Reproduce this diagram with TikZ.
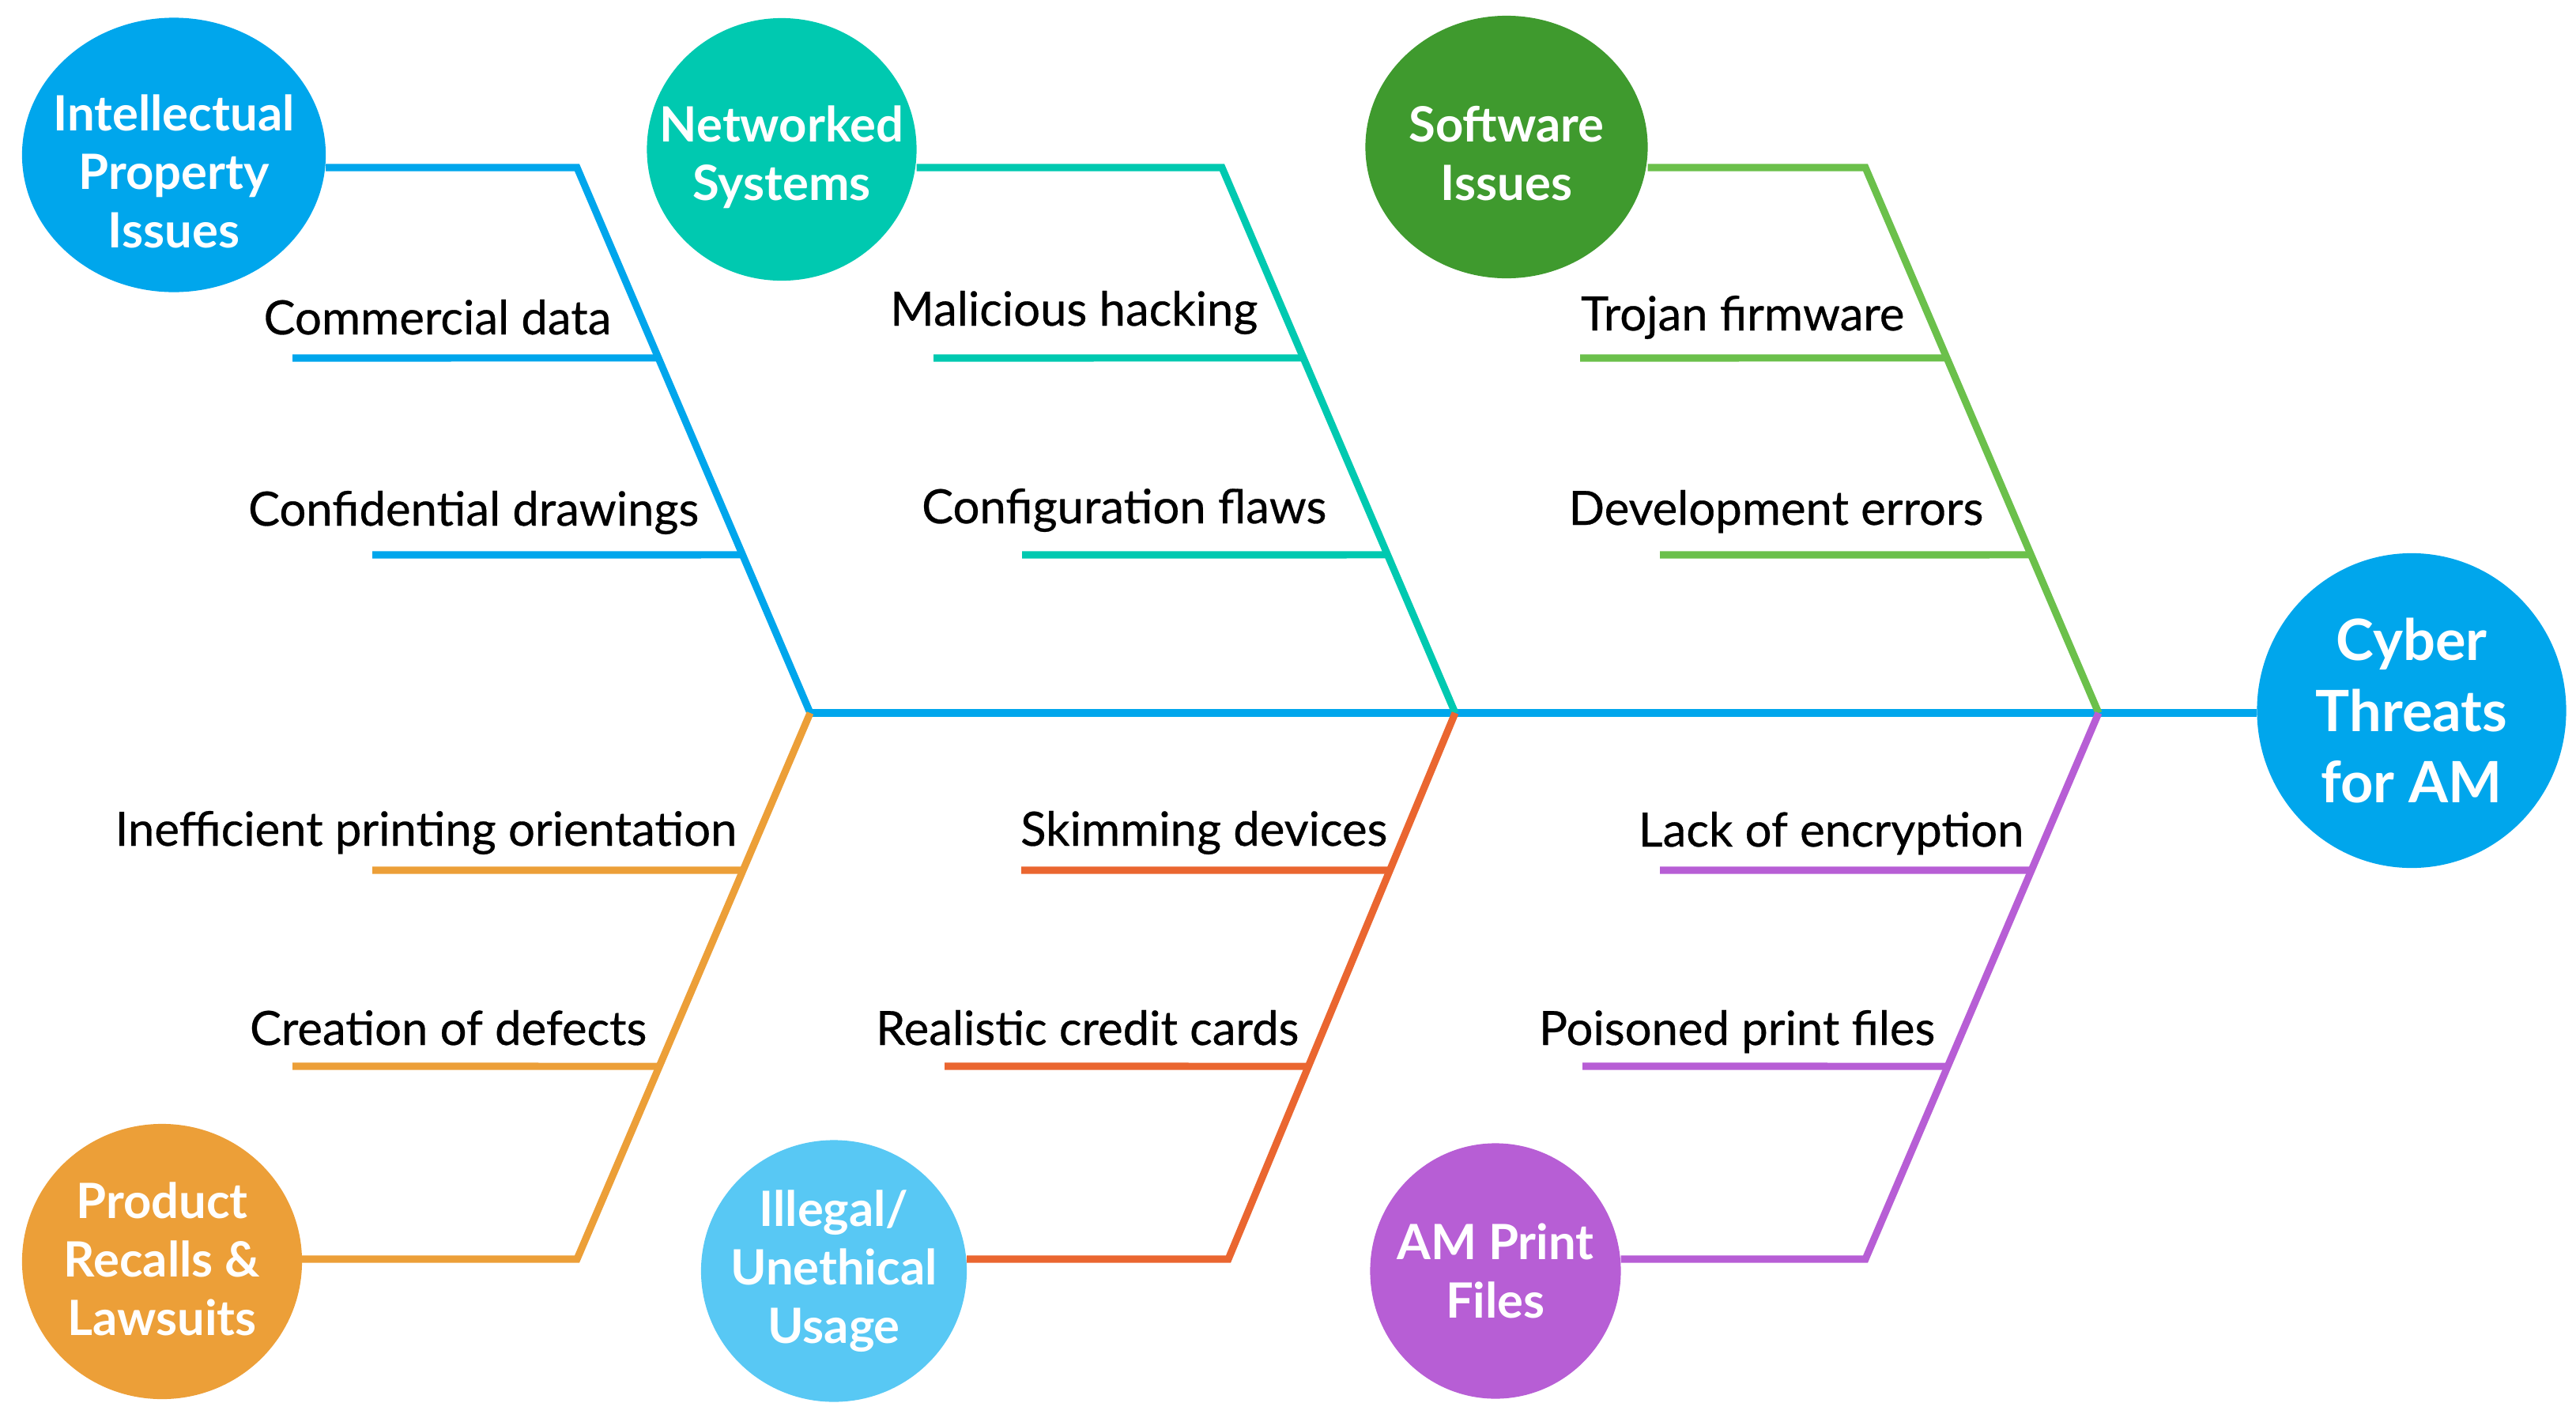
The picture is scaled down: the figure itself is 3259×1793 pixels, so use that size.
\documentclass[tikz,border=0pt]{standalone}
\usepackage{fontspec}
\setmainfont{Lato}
\newfontfamily\lblfont{Lato}[FakeBold=0.5]
\usetikzlibrary{shapes.geometric,calc}
\definecolor{cblue}{RGB}{0,166,236}
\definecolor{cteal}{RGB}{0,201,176}
\definecolor{cdgreen}{RGB}{63,154,46}
\definecolor{clgreen}{RGB}{107,192,75}
\definecolor{corange}{RGB}{236,159,56}
\definecolor{clblue}{RGB}{88,200,244}
\definecolor{cred}{RGB}{234,102,48}
\definecolor{cpurple}{RGB}{183,94,213}
\tikzset{
  bubble/.style={ellipse, inner sep=0pt, outer sep=0pt},
  btext/.style={inner sep=0pt, text=white, align=center,
    font=\fontsize{17.5}{21}\selectfont\bfseries},
  bone/.style={line width=2.6pt},
  lbl/.style={anchor=base east, inner sep=0pt, font=\fontsize{17}{20}\selectfont\lblfont}
}
\begin{document}
\begin{tikzpicture}[x=0.01cm,y=-0.01cm]
\useasboundingbox (0,0) rectangle (3259,1793);
% junctions
\coordinate (j1) at (1025,902);
\coordinate (j2) at (1841,902);
\coordinate (j3) at (2655,902);
\coordinate (ipbend) at (730,212);
\coordinate (nsbend) at (1546,212);
\coordinate (swbend) at (2360,212);
\coordinate (pbend) at (730,1593);
\coordinate (ilbend) at (1554,1593);
\coordinate (ambend) at (2360,1593);
% circles
\node[bubble, fill=cblue, minimum width=3.84cm, minimum height=3.47cm] (ip) at (220,196) {};
\node[bubble, fill=cteal, minimum width=3.41cm, minimum height=3.32cm] (ns) at (989,189) {};
\node[bubble, fill=cdgreen, minimum width=3.57cm, minimum height=3.32cm] (sw) at (1906,186) {};
\node[bubble, fill=corange, minimum width=3.54cm, minimum height=3.48cm] (pr) at (205,1596) {};
\node[bubble, fill=clblue, minimum width=3.36cm, minimum height=3.31cm] (il) at (1055,1608) {};
\node[bubble, fill=cpurple, minimum width=3.17cm, minimum height=3.23cm] (am) at (1892,1608) {};
\node[bubble, fill=cblue, minimum width=3.91cm, minimum height=3.98cm] (cy) at (3051,899) {};
\node[btext] (ipT) at (220,217) {Intellectual\\Property\\Issues};
\node[btext] (nsT) at (989,199) {Networked\\Systems};
\node[btext] (swT) at (1906,194) {Software\\Issues};
\node[btext] (prT) at (205,1593) {Product\\Recalls \&\\Lawsuits};
\node[btext] (ilT) at (1055,1608) {Illegal/\\Unethical\\Usage};
\node[btext] (amT) at (1892,1608) {AM Print\\Files};
\node[btext, font=\fontsize{20.5}{25.5}\selectfont\bfseries] (cyT) at (3051,899) {Cyber\\Threats\\for AM};
% spine
\draw[bone, cblue] (j1) -- (j1 -| cy.west);
% main bones
\draw[bone, cblue] (ip.east |- ipbend) -- (ipbend) -- (j1);
\draw[bone, cteal] (ns.east |- nsbend) -- (nsbend) -- (j2);
\draw[bone, clgreen] (sw.east |- swbend) -- (swbend) -- (j3);
\draw[bone, corange] (pr.east |- pbend) -- (pbend) -- (j1);
\draw[bone, cred] (il.east |- ilbend) -- (ilbend) -- (j2);
\draw[bone, cpurple] (am.east |- ambend) -- (ambend) -- (j3);
% sub-bone end points
\coordinate (ipA) at ($(ipbend)!0.349!(j1)$);
\coordinate (ipB) at ($(ipbend)!0.710!(j1)$);
\coordinate (nsA) at ($(nsbend)!0.349!(j2)$);
\coordinate (nsB) at ($(nsbend)!0.710!(j2)$);
\coordinate (swA) at ($(swbend)!0.349!(j3)$);
\coordinate (swB) at ($(swbend)!0.710!(j3)$);
\coordinate (prA) at ($(j1)!0.288!(pbend)$);
\coordinate (prB) at ($(j1)!0.647!(pbend)$);
\coordinate (ilA) at ($(j2)!0.288!(ilbend)$);
\coordinate (ilB) at ($(j2)!0.647!(ilbend)$);
\coordinate (amA) at ($(j3)!0.288!(ambend)$);
\coordinate (amB) at ($(j3)!0.647!(ambend)$);
\coordinate (ipAl) at (370,453);
\coordinate (ipBl) at (471,702);
\coordinate (nsAl) at (1181,453);
\coordinate (nsBl) at (1293,702);
\coordinate (swAl) at (1999,453);
\coordinate (swBl) at (2100,702);
\coordinate (prAl) at (471,1101);
\coordinate (prBl) at (370,1349);
\coordinate (ilAl) at (1292,1101);
\coordinate (ilBl) at (1195,1349);
\coordinate (amAl) at (2100,1101);
\coordinate (amBl) at (2002,1349);
\draw[bone, cblue] (ipAl) -- (ipA);
\draw[bone, cblue] (ipBl) -- (ipB);
\draw[bone, cteal] (nsAl) -- (nsA);
\draw[bone, cteal] (nsBl) -- (nsB);
\draw[bone, clgreen] (swAl) -- (swA);
\draw[bone, clgreen] (swBl) -- (swB);
\draw[bone, corange] (prAl) -- (prA);
\draw[bone, corange] (prBl) -- (prB);
\draw[bone, cred] (ilAl) -- (ilA);
\draw[bone, cred] (ilBl) -- (ilB);
\draw[bone, cpurple] (amAl) -- (amA);
\draw[bone, cpurple] (amBl) -- (amB);
% labels
\node[lbl] (t1) at (774,423) {Commercial data};
\node[lbl] (t2) at (885,665) {Confidential drawings};
\node[lbl] (t3) at (1592,412) {Malicious hacking};
\node[lbl] (t4) at (1679,662) {Configuration flaws};
\node[lbl] (t5) at (2410,418) {Trojan firmware};
\node[lbl] (t6) at (2510,664) {Development errors};
\node[lbl] (t7) at (933,1070) {Inefficient printing orientation};
\node[lbl] (t8) at (819,1322) {Creation of defects};
\node[lbl] (t9) at (1756,1070) {Skimming devices};
\node[lbl] (t10) at (1644,1322) {Realistic credit cards};
\node[lbl] (t11) at (2561,1071) {Lack of encryption};
\node[lbl] (t12) at (2449,1322) {Poisoned print files};
\end{tikzpicture}
\end{document}
